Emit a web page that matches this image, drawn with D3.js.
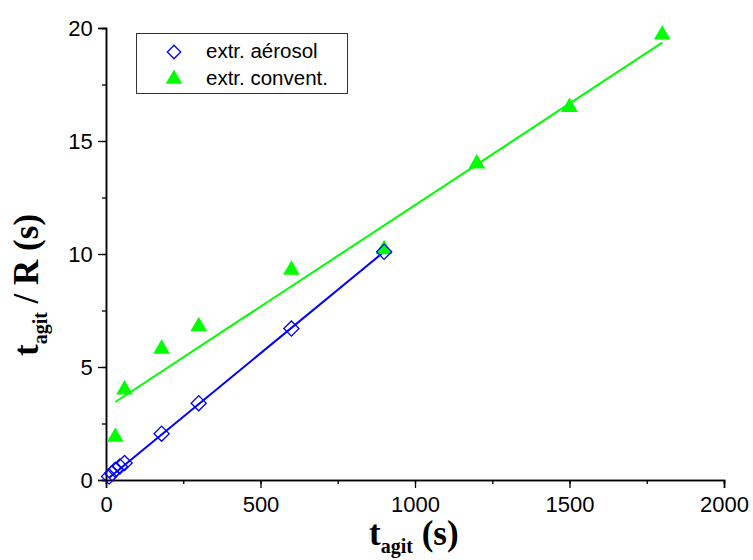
<!DOCTYPE html>
<html><head><meta charset="utf-8">
<script src="https://cdn.jsdelivr.net/npm/d3@7"></script>
<style>body{margin:0;background:#fff}</style>
</head><body>
<svg id="c" width="753" height="560"></svg>
<script>
const aerosolT = [10, 20, 30, 45, 60, 180, 300, 600, 900];
const aerosolV = [0.15, 0.3, 0.45, 0.6, 0.75, 2.05, 3.4, 6.7, 10.1];
const conventT = [30, 60, 180, 300, 600, 900, 1200, 1500, 1800];
const conventV = [1.9, 4.0, 5.8, 6.8, 9.3, 10.2, 14.0, 16.5, 19.7];
const aerosolFit = [[10, 0.1], [900, 10.1]];
const conventFit = [[30, 3.45], [1800, 19.35]];
const xTicks = [0, 500, 1000, 1500, 2000];
const yTicks = [0, 5, 10, 15, 20];
const legendLabels = ["extr. aérosol", "extr. convent."];

const svg = d3.select("#c");
const x = d3.scaleLinear().domain([0, 2000]).range([106, 724]);
const y = d3.scaleLinear().domain([0, 20]).range([480, 28]);

// axes
const gx = svg.append("g").attr("transform", "translate(0,480)");
gx.call(d3.axisBottom(x).tickValues(d3.range(0, 2001, 250)).tickSize(4).tickFormat(""));
gx.append("g").call(d3.axisBottom(x).tickValues(xTicks).tickSize(8).tickFormat(d3.format("d")));
const gy = svg.append("g").attr("transform", "translate(106,0)");
gy.call(d3.axisLeft(y).tickValues(d3.range(0, 20.01, 2.5)).tickSize(4).tickFormat(""));
gy.append("g").call(d3.axisLeft(y).tickValues(yTicks).tickSize(8).tickFormat(d3.format("d")));
svg.selectAll(".domain").attr("stroke", "#000").attr("stroke-width", 1.5);
svg.selectAll(".tick line").attr("stroke", "#000").attr("stroke-width", 1.3);
svg.selectAll(".tick text").attr("font-family", "Liberation Sans, Arial, sans-serif")
  .attr("font-size", 22).attr("fill", "#000");
gx.selectAll(".tick text").attr("dy", "0.95em");
gy.selectAll(".tick text").attr("dx", "-0.1em");

// fit lines
const line = d3.line().x(d => x(d[0])).y(d => y(d[1]));
svg.append("path").attr("d", line(conventFit)).attr("stroke", "#00ff00").attr("stroke-width", 2).attr("fill", "none");
svg.append("path").attr("d", line(aerosolFit)).attr("stroke", "#0000ff").attr("stroke-width", 2).attr("fill", "none");

const tri = d3.symbol().type(d3.symbolTriangle).size(120);
const dia = d3.symbol().type(d3.symbolSquare).size(115);

svg.append("g").selectAll("path").data(conventT).join("path")
  .attr("d", tri).attr("transform", (d, i) => `translate(${x(d)},${y(conventV[i])})`)
  .attr("fill", "#00ff00");
svg.append("g").selectAll("path").data(aerosolT).join("path")
  .attr("d", dia).attr("transform", (d, i) => `translate(${x(d)},${y(aerosolV[i])}) rotate(45)`)
  .attr("fill", "none").attr("stroke", "#0000ff").attr("stroke-width", 1.3);

// legend
const lg = svg.append("g");
lg.append("rect").attr("x", 136.5).attr("y", 33.5).attr("width", 211).attr("height", 60)
  .attr("fill", "#fff").attr("stroke", "#333").attr("stroke-width", 1);
lg.append("path").attr("d", d3.symbol().type(d3.symbolSquare).size(90))
  .attr("transform", "translate(174,52) rotate(45)").attr("fill", "none").attr("stroke", "#0000ff").attr("stroke-width", 1.3);
lg.append("path").attr("d", d3.symbol().type(d3.symbolTriangle).size(120))
  .attr("transform", "translate(174,79)").attr("fill", "#00ff00");
legendLabels.forEach((t, i) => {
  lg.append("text").attr("x", 206).attr("y", 58 + i * 27).text(t)
    .attr("font-family", "Liberation Sans, Arial, sans-serif").attr("font-size", 20.5).attr("fill", "#000");
});

// axis titles
const xt = svg.append("text").attr("x", 369).attr("y", 545)
  .attr("font-family", "Liberation Serif, Times New Roman, serif").attr("font-weight", "bold").attr("font-size", 35);
xt.append("tspan").text("t");
xt.append("tspan").attr("font-size", 20).attr("dy", 8).text("agit");
xt.append("tspan").attr("dy", -8).text(" (s)");

const yt = svg.append("text").attr("transform", "translate(38,356) rotate(-90)")
  .attr("font-family", "Liberation Serif, Times New Roman, serif").attr("font-weight", "bold").attr("font-size", 35);
yt.append("tspan").text("t");
yt.append("tspan").attr("font-size", 20).attr("dy", 9).text("agit");
yt.append("tspan").attr("dy", -9).text(" / R (s)");
</script>
</body></html>
